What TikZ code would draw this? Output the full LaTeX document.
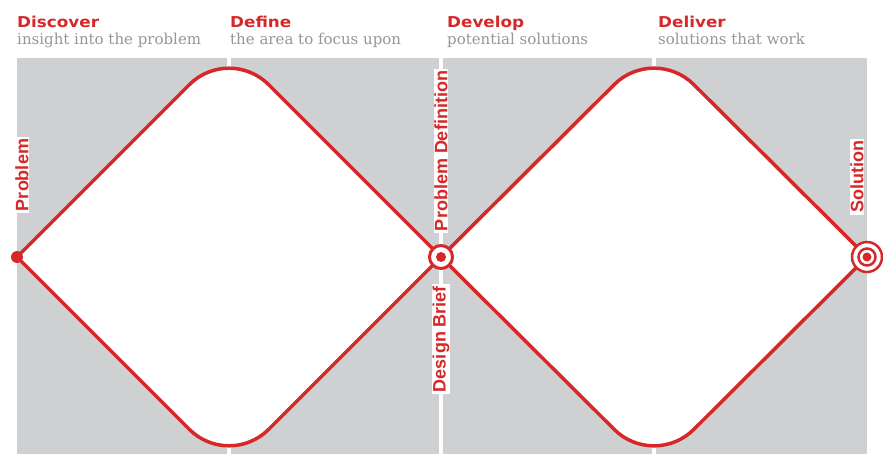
\documentclass[tikz,border=0pt]{standalone}
\usepackage{fontspec}
\usepackage{xcolor}
\usepackage{tikz}
\usetikzlibrary{calc}

\setmainfont{DejaVu Serif}
\newfontfamily\headfont[FakeStretch=1.12]{DejaVu Sans}
\newfontfamily\labelfont{Liberation Sans}

\definecolor{ddred}{RGB}{214,40,40}
\definecolor{panel}{RGB}{207,208,210}
\definecolor{aimgray}{RGB}{150,150,150}

\begin{document}
\begin{tikzpicture}[x=1pt, y=-1pt,
		stage/.style = {anchor=base west, inner sep=0pt, text=ddred, font=\headfont\bfseries\fontsize{15}{15}\selectfont},
		aim/.style = {anchor=base west, inner sep=0pt, text=aimgray, font=\fontsize{15}{15}\selectfont},
		milestone/.style = {rotate=90, fill=white, inner xsep=2pt, inner ysep=0.5pt, text=ddred, font=\labelfont\bfseries\fontsize{18}{18}\selectfont},
		diamond line/.style = {fill=white, draw=ddred, line width=3.5, rounded corners=56}]
		\def\half{212}
		
		\useasboundingbox (0,0) rectangle (883,454);
		\fill[panel] (17,58) rectangle (867,454);
		
		\coordinate (problem) at (17,257);
		\coordinate (brief) at (441,257);
		\coordinate (solution) at (867,257);
		\coordinate (define mid) at ($ (problem)!.5!(brief) $);
		\coordinate (deliver mid) at ($ (brief)!.5!(solution) $);
		
		\foreach \c in {define mid, brief, deliver mid}
			\draw[white, line width=4] (\c |- 0,58) -- (\c |- 0,454);
		
		\foreach \a/\b in {problem/brief, brief/solution} {
			\filldraw[diamond line] (\a) -- ($ (\a)!.5!(\b) + (0,-\half) $) -- (\b);
			\filldraw[diamond line] (\a) -- ($ (\a)!.5!(\b) + (0,\half) $) -- (\b);
		}
		
		\fill[ddred] (problem) circle [radius = 6];
		\filldraw[fill=white, draw=ddred, line width=3] (brief) circle [radius = 11.5];
		\fill[ddred] (brief) circle [radius = 5];
		\filldraw[fill=white, draw=ddred, line width=2.5] (solution) circle [radius = 15];
		\draw[ddred, line width=2.5] (solution) circle [radius = 8.5];
		\fill[ddred] (solution) circle [radius = 4.5];
		
		\node[milestone] (problem label) at (22,175) {Problem};
		\node[milestone] (definition label) at (441,151) {Problem Definition};
		\node[milestone] (brief label) at (441,339) {Design Brief};
		\node[milestone] (solution label) at (857,177) {Solution};
		
		\foreach \x/\n/\s/\t in {17/discover/Discover/insight into the problem,
				230/define/Define/the area to focus upon,
				447/develop/Develop/potential solutions,
				658/deliver/Deliver/solutions that work} {
			\node[stage] (\n) at (\x,28) {\s};
			\node[aim] (\n aim) at (\x,45) {\t};
		}
	\end{tikzpicture}
\end{document}
